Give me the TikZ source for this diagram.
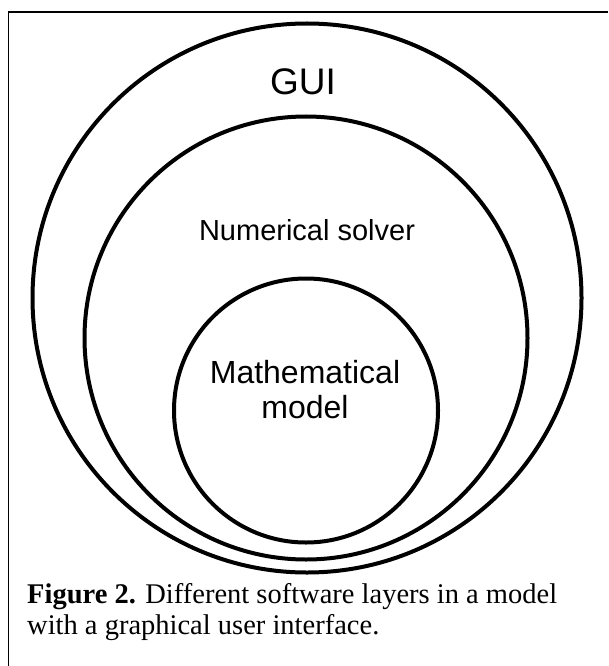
\documentclass[tikz,border=0pt]{standalone}
\usepackage{fontspec}
\setmainfont{Liberation Serif}
\setsansfont{Liberation Sans}

\begin{document}
\begin{tikzpicture}[x=1pt, y=-1pt]
    \useasboundingbox (0,0) rectangle (608,666);
    % frame
    \coordinate (FL) at (8.5,666);
    \coordinate (FC) at (8.5,12);
    \coordinate (FR) at (608,12);
    \draw[line width=1.6pt] (FL) -- (FC) -- (FR);

    \node[draw, circle, line width=4pt, minimum size=549pt, inner sep=0pt] (gui) at (307,298) {};
    \node[draw, circle, line width=4pt, minimum size=443pt, inner sep=0pt] (solver) at (306,338) {};
    \node[draw, circle, line width=4pt, minimum size=264pt, inner sep=0pt] (model) at (306,410.5) {};

    \node[font=\sffamily\fontsize{37}{40}\selectfont] (guilabel) at (303,82) {GUI};
    \node[font=\sffamily\fontsize{29}{32}\selectfont] (solverlabel) at (307,230) {Numerical solver};
    \node[font=\sffamily\fontsize{32}{35}\selectfont, align=center] (modellabel) at (305,390) {Mathematical\\model};

    \node[font=\fontsize{28.5}{31}\selectfont, align=left, anchor=base west, inner sep=0pt] (caption) at (27,634)
        {\textbf{Figure 2.} Different software layers in a model\\with a graphical user interface.};
\end{tikzpicture}
\end{document}
